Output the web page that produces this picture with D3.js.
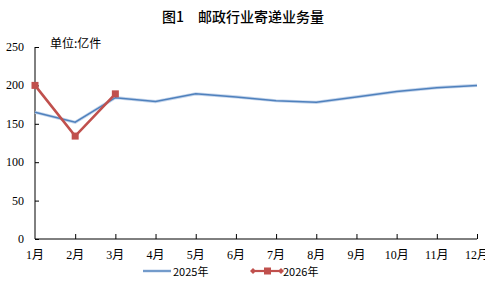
<!DOCTYPE html>
<html>
<head>
<meta charset="utf-8">
<script src="https://cdn.jsdelivr.net/npm/d3@7"></script>
<style>
    body { margin: 0; background: #fff; }
    .num { font-family: "Liberation Serif", "Noto Sans CJK SC", serif; font-size: 12px; fill: #000; }
    .cjk { font-family: "Noto Sans CJK SC", sans-serif; font-size: 12px; fill: #000; }
</style>
</head>
<body>
<div id="chart"></div>
<script>
var months = ['1月', '2月', '3月', '4月', '5月', '6月', '7月', '8月', '9月', '10月', '11月', '12月'];
var volume2025 = [165, 152, 184, 179, 189, 185, 180, 178, 185, 192, 197, 200];
var volume2026 = [200, 134, 189];
var yTicks = [0, 50, 100, 150, 200, 250];

var width = 485;
var height = 281;
var margin = {top: 47, bottom: 42, left: 35, right: 8};

var svg = d3.select('#chart').append('svg')
    .attr('width', width)
    .attr('height', height);

var xScale = d3.scalePoint().domain(months).range([margin.left, width - margin.right]);
var yScale = d3.scaleLinear().domain([0, 250]).range([height - margin.bottom, margin.top]);

// title
svg.append('text')
    .attr('class', 'cjk')
    .attr('x', 243).attr('y', 22)
    .attr('text-anchor', 'middle')
    .style('font-size', '14px')
    .style('font-weight', 500)
    .text('图1　邮政行业寄递业务量');

svg.append('text')
    .attr('class', 'cjk')
    .attr('x', 50).attr('y', 48)
    .text('单位:亿件');

// axes
var yAxis = svg.append('g')
    .attr('transform', 'translate(' + margin.left + ',0)')
    .call(d3.axisRight(yScale).tickValues(yTicks).tickSize(4).tickFormat(''));
yAxis.select('.domain').attr('d', 'M0,' + yScale(250) + 'V' + yScale(0));
yAxis.selectAll('line').attr('stroke', '#000');

svg.selectAll('text.ylab')
    .data(yTicks)
    .enter()
    .append('text')
    .attr('class', 'num ylab')
    .attr('x', margin.left - 11)
    .attr('y', function (d) { return yScale(d) + 4; })
    .attr('text-anchor', 'end')
    .text(function (d) { return d; });

var xAxis = svg.append('g')
    .attr('transform', 'translate(0,' + yScale(0) + ')')
    .call(d3.axisTop(xScale).tickSize(5).tickFormat(''));
xAxis.select('.domain').attr('d', 'M' + margin.left + ',0H' + (width - margin.right));
xAxis.selectAll('line').attr('stroke', '#000');
xAxis.selectAll('.tick').filter(function (d, i) { return i === 0; }).remove();

svg.selectAll('text.xlab')
    .data(months)
    .enter()
    .append('text')
    .attr('class', 'num xlab')
    .attr('x', function (d) { return xScale(d); })
    .attr('y', yScale(0) + 20)
    .attr('text-anchor', 'middle')
    .text(function (d) { return d; });

// lines
var line = d3.line()
    .x(function (d, i) { return xScale(months[i]); })
    .y(function (d) { return yScale(d); });

svg.append('path')
    .attr('d', line(volume2025))
    .attr('fill', 'none')
    .attr('stroke', '#c6d6ec')
    .attr('stroke-width', 3.2);
svg.append('path')
    .attr('d', line(volume2025))
    .attr('fill', 'none')
    .attr('stroke', '#4f81bd')
    .attr('stroke-width', 1.5);

svg.append('path')
    .attr('d', line(volume2026))
    .attr('fill', 'none')
    .attr('stroke', '#c0504d')
    .attr('stroke-width', 2.6);

svg.selectAll('rect.m26')
    .data(volume2026)
    .enter()
    .append('rect')
    .attr('class', 'm26')
    .attr('x', function (d, i) { return xScale(months[i]) - 3.5; })
    .attr('y', function (d) { return yScale(d) - 3.5; })
    .attr('width', 7).attr('height', 7)
    .attr('fill', '#c0504d');

// legend
var legend = svg.append('g').attr('transform', 'translate(0,271)');
legend.append('line')
    .attr('x1', 143).attr('x2', 171).attr('y1', 0).attr('y2', 0)
    .attr('stroke', '#c6d6ec').attr('stroke-width', 3);
legend.append('line')
    .attr('x1', 143).attr('x2', 171).attr('y1', 0).attr('y2', 0)
    .attr('stroke', '#4f81bd').attr('stroke-width', 1.4);
legend.append('text')
    .attr('class', 'cjk')
    .attr('x', 173).attr('y', 4.5)
    .style('font-size', '11px')
    .text('2025年');

legend.append('line')
    .attr('x1', 252).attr('x2', 282).attr('y1', 0).attr('y2', 0)
    .attr('stroke', '#c0504d').attr('stroke-width', 2.2);
legend.append('rect')
    .attr('x', 264).attr('y', -3.5).attr('width', 7).attr('height', 7)
    .attr('fill', '#c0504d');
[253, 281].forEach(function (x) {
    legend.append('path')
        .attr('d', 'M' + (x - 3) + ',0L' + x + ',-3L' + (x + 3) + ',0L' + x + ',3Z')
        .attr('fill', '#c0504d');
});
legend.append('text')
    .attr('class', 'cjk')
    .attr('x', 283).attr('y', 4.5)
    .style('font-size', '11px')
    .text('2026年');
</script>
</body>
</html>
